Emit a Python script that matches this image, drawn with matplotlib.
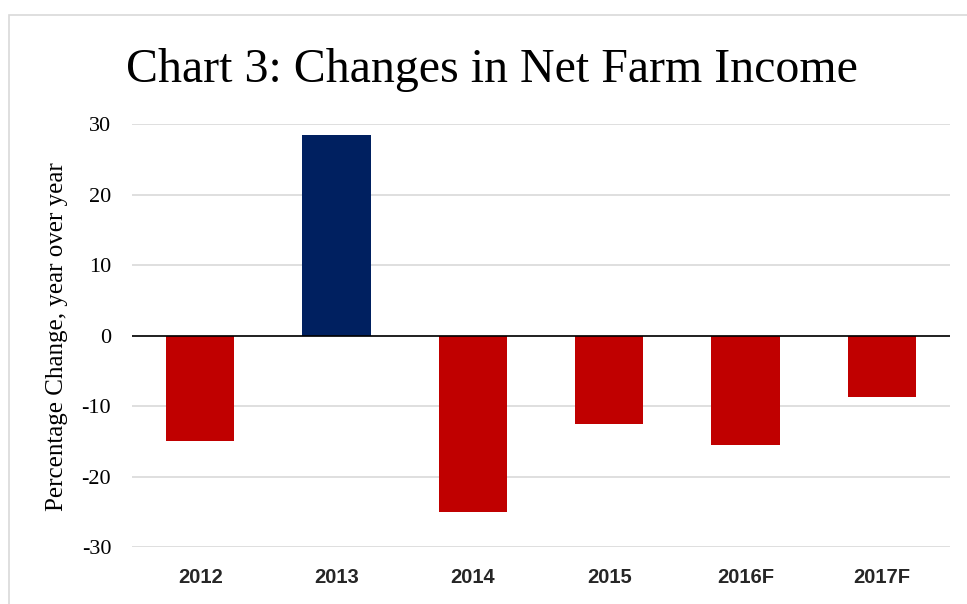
import matplotlib.pyplot as plt
from matplotlib.patches import Rectangle

years = ['2012', '2013', '2014', '2015', '2016F', '2017F']
pct_change = [-14.9, 28.5, -25.1, -12.6, -15.5, -8.7]
yticks = [-30, -20, -10, 0, 10, 20, 30]

RED = '#c00000'
NAVY = '#002060'

fig = plt.figure(figsize=(9.67, 6.04), dpi=100, facecolor='white')

# thin outer chart border
fig.patches.append(Rectangle((9 / 967, -0.1), 1.2, 1 - 15 / 604 + 0.1,
                             transform=fig.transFigure, fill=False,
                             edgecolor='#d9d9d9', linewidth=1.2))

ax = fig.add_axes([132 / 967, 0.0944, (950 - 132) / 967, 0.7939 - 0.0944])

colors = [NAVY if v > 0 else RED for v in pct_change]
x = range(len(years))
ax.bar(x, pct_change, width=0.5, color=colors, zorder=3)
ax.axhline(0, color='black', linewidth=1.2, zorder=4)

ax.set_xlim(-0.5, len(years) - 0.5)
ax.set_ylim(-30, 30)
ax.set_yticks(yticks)
ax.set_yticklabels([str(t) for t in yticks], family='Liberation Serif', fontsize=16)
ax.set_xticks(list(x))
ax.set_xticklabels(years, family='Liberation Sans', fontsize=14.5,
                   fontweight='bold', color='#262626')
ax.tick_params(axis='both', length=0)
ax.tick_params(axis='y', pad=15)
ax.tick_params(axis='x', pad=15)
ax.grid(axis='y', color='#d9d9d9', linewidth=1.2, zorder=0)
for s in ax.spines.values():
    s.set_visible(False)

fig.text(492 / 967, 1 - 70 / 604, 'Chart 3: Changes in Net Farm Income',
         family='Liberation Serif', fontsize=34.5, ha='center', va='center')
fig.text(57 / 967, 1 - 337 / 604, 'Percentage Change, year over year',
         family='Liberation Serif', fontsize=18, rotation=90,
         ha='center', va='center')

fig.savefig('out.png', dpi=100, facecolor='white')
